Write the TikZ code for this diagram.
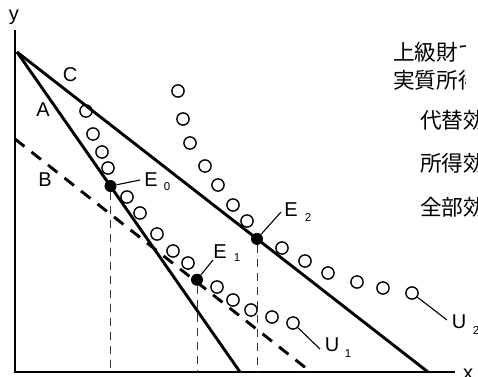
\documentclass[tikz,border=0pt]{standalone}
\usepackage{fontspec}
\setmainfont{Liberation Sans}
\newfontfamily\jpfont{Noto Sans CJK JP}
\begin{document}
\begin{tikzpicture}[x=1pt,y=-1pt,
  lbl/.style={inner sep=0pt, font=\fontsize{20}{20}\selectfont},
  subl/.style={inner sep=0pt, font=\fontsize{11.5}{11.5}\selectfont},
  jpt/.style={inner sep=0pt, anchor=west, font=\jpfont\fontsize{21.7}{21.7}\selectfont},
  budget/.style={line width=2.9pt},
  bdash/.style={line width=2.9pt, dash pattern=on 12pt off 9pt},
  ax/.style={line width=1.7pt},
  guide/.style={line width=0.9pt, dash pattern=on 8pt off 6pt, black!80},
  lead/.style={line width=1.1pt},
  ring/.style={circle, draw, line width=1.4pt, inner sep=0pt, minimum size=12.2pt},
  eq/.style={circle, fill=black, inner sep=0pt, minimum size=12pt}]
\useasboundingbox (0,0) rectangle (478,376);
\clip (0,0) rectangle (478,376);

% axes
\coordinate (ytop) at (15,30);
\coordinate (orig) at (15,372);
\coordinate (xend) at (455,372);
\draw[ax] (ytop) -- (orig) -- (xend);
\node[lbl] (ylab) at (14,17.5) {y};
\node[lbl] (xlab) at (468,374.5) {x};

% budget lines
\coordinate (P) at (17,52);
\coordinate (Aend) at (240,372);
\coordinate (Cend) at (428,372);
\coordinate (Bstart) at (15,139);
\coordinate (Bend) at (311,372);
\draw[budget] (P) -- (Aend);
\draw[budget] (P) -- (Cend);
\draw[bdash] (Bstart) -- (Bend);

\node[lbl] (Clab) at (70,75) {C};
\node[lbl] (Alab) at (43,110) {A};
\node[lbl] (Blab) at (45,180) {B};

% indifference curve U1
\foreach \p [count=\i] in {(86,111),(93,134),(102,152),(108,168),(127,197),(140,213),(157,234),(173,251),(188,263),(217,287),(233,300),(251,310),(272,317)}
  \node[ring] (ua\i) at \p {};
\node[ring] (u1end) at (293,323) {};

% indifference curve U2
\foreach \p [count=\i] in {(178,91),(183,119),(190,143),(205,166),(218,185),(233,205),(247,221),(282,248),(305,261),(328,273),(357,282),(383,288)}
  \node[ring] (ub\i) at \p {};
\node[ring] (u2end) at (412,293) {};

% equilibrium points
\node[eq] (E0) at (110.5,186) {};
\node[eq] (E1) at (197,279.7) {};
\node[eq] (E2) at (257,238.9) {};

% guides
\draw[guide] (E0.south) -- (E0 |- orig);
\draw[guide] (E1.south) -- (E1 |- orig);
\draw[guide] (E2.south) -- (E2 |- orig);

% labels E
\node[lbl] (E0lab) at (151,180) {E};
\node[subl] (E0sub) at (167,187) {0};
\node[lbl] (E1lab) at (220,252) {E};
\node[subl] (E1sub) at (237,258) {1};
\node[lbl] (E2lab) at (291,210) {E};
\node[subl] (E2sub) at (308,217) {2};
\coordinate (E0t) at (140,180);
\coordinate (E1t) at (213,260);
\coordinate (E2t) at (281,212);
\draw[lead] (E0) -- (E0t);
\draw[lead] (E1) -- (E1t);
\draw[lead] (E2) -- (E2t);

% labels U
\node[lbl] (U1lab) at (332,345) {U};
\node[subl] (U1sub) at (348,354) {1};
\node[lbl] (U2lab) at (459,322) {U};
\node[subl] (U2sub) at (476,330) {2};
\coordinate (U1t) at (320,349);
\coordinate (U2t) at (447,320);
\draw[lead] (u1end) -- (U1t);
\draw[lead] (u2end) -- (U2t);

% Japanese text (cut off as in the reference)
\begin{scope}
  \clip (380,30) rectangle (465,96);
  \node[jpt] (t1) at (393,52) {上級財で};
  \node[jpt] (t2) at (393,80) {実質所得};
\end{scope}
\node[jpt] (t3) at (420,120) {代替効果};
\node[jpt] (t4) at (420,163) {所得効果};
\node[jpt] (t5) at (420,207) {全部効果};
\end{tikzpicture}
\end{document}
